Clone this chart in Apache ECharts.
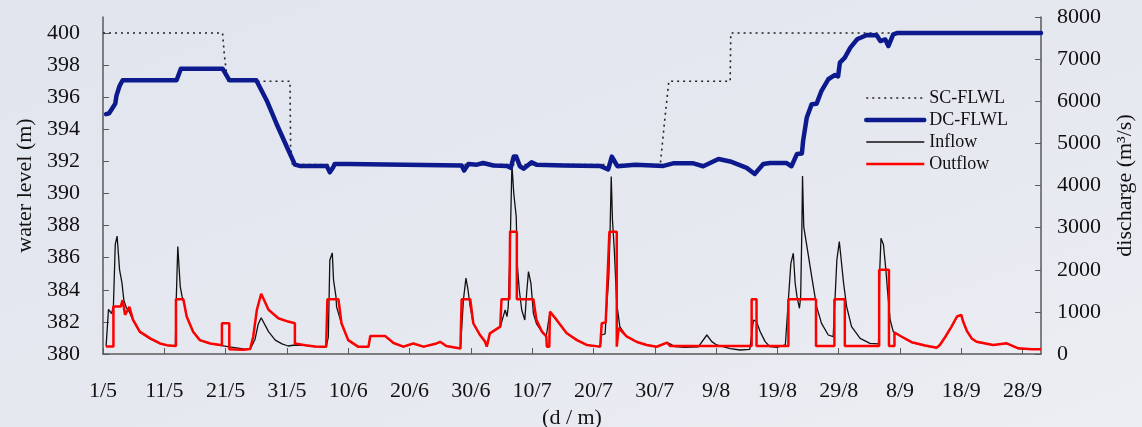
<!DOCTYPE html>
<html>
<head>
<meta charset="utf-8">
<script src="https://cdn.jsdelivr.net/npm/echarts@6.0.0/dist/echarts.min.js"></script>
<style>
  html, body { margin: 0; padding: 0; }
  body { background: linear-gradient(160deg, #e1e5ee 0%, #e5e8ef 55%, #eceef3 100%); }
  #chart { width: 1142px; height: 427px; }
</style>
</head>
<body>
<div id="chart"></div>
<script>
// x = days since 1 May
const tickLabels = ['1/5','11/5','21/5','31/5','10/6','20/6','30/6','10/7','20/7','30/7','9/8','19/8','29/8','8/9','18/9','28/9'];

// water levels (m)
const scFlwl = [[0,400],[19.5,400],[19.8,398.6],[20.3,397.0],[30.5,397.0],[30.6,393.0],[30.9,391.8],[90.9,391.8],[91.6,394.5],[92.3,397.0],[102.3,397.0],[102.4,400],[153,400]];

const dcFlwl = [[0.5,394.95],[1.0,395.0],[1.5,395.3],[2.0,395.6],[2.2,396.1],[2.7,396.7],[3.2,397.06],[12.0,397.06],[12.7,397.78],[19.5,397.78],[20.6,397.06],[25.0,397.06],[26.7,395.8],[28.3,394.35],[30.0,392.9],[31.3,391.8],[32.1,391.72],[36.5,391.72],[37.0,391.32],[37.5,391.6],[37.8,391.84],[40.0,391.84],[40.3,391.75],[58.5,391.75],[58.9,391.43],[59.6,391.84],[61.0,391.8],[62.0,391.9],[63.7,391.75],[65.9,391.72],[66.5,391.6],[67.0,392.3],[67.4,392.3],[68.0,391.7],[68.6,391.55],[69.9,391.94],[70.7,391.8],[75.1,391.75],[81.1,391.72],[82.4,391.5],[83.0,392.3],[83.3,392.3],[83.9,391.7],[85.4,391.75],[86.8,391.8],[91.4,391.72],[93.0,391.88],[96.3,391.88],[97.9,391.7],[100.4,392.15],[102.3,392.0],[105.0,391.6],[106.3,391.22],[107.7,391.84],[108.8,391.9],[111.5,391.9],[112.3,391.7],[113.2,392.47],[114.0,392.5],[114.2,393.29],[114.8,394.74],[115.6,395.57],[116.4,395.6],[117.2,396.4],[118.3,397.12],[119.4,397.39],[119.9,397.3],[120.2,398.16],[121.0,398.47],[121.9,399.09],[123.0,399.61],[124.6,399.88],[126.2,399.86],[126.8,399.5],[127.6,399.6],[128.1,399.19],[128.9,399.92],[129.5,400],[153,400]];

// discharge (m3/s)
const inflow = [[0.5,180],[0.9,1060],[1.15,1090],[1.4,960],[1.7,1150],[2.0,2600],[2.3,2800],[2.7,2000],[3.1,1680],[3.4,1280],[3.8,1100],[4.3,1000],[4.9,800],[6.0,520],[7.7,360],[9.3,245],[10.4,205],[11.8,185],[11.95,1300],[12.2,2550],[12.6,1600],[12.9,1360],[13.2,1250],[13.65,880],[14.7,525],[15.8,325],[17.5,245],[19.4,200],[20.6,170],[22.9,120],[24.0,110],[24.8,350],[25.3,700],[25.8,860],[27.0,530],[28.1,330],[29.2,240],[30.2,190],[31.3,214],[33.0,205],[34.6,175],[36.4,165],[36.75,400],[37.0,2230],[37.4,2400],[37.6,1760],[38.0,1360],[38.1,1120],[38.9,720],[40.0,325],[41.6,170],[43.3,170],[43.6,420],[46.0,420],[47.4,255],[49.0,170],[50.6,245],[52.3,170],[54.4,245],[55.0,285],[56.0,185],[58.3,125],[58.8,1300],[59.2,1800],[59.5,1560],[59.9,1120],[60.4,720],[61.5,445],[62.3,295],[62.6,170],[63.1,485],[64.8,640],[65.3,900],[65.6,1045],[65.9,886],[66.1,1124],[66.4,2470],[66.7,4500],[67.0,3816],[67.4,3260],[67.6,2073],[67.9,1520],[68.3,1045],[68.8,807],[69.1,1441],[69.4,1955],[69.8,1679],[70.2,966],[70.7,720],[71.6,525],[72.3,415],[72.8,900],[73.0,990],[74.0,800],[75.6,495],[77.3,330],[78.9,210],[81.1,170],[81.3,451],[81.9,480],[82.2,1203],[82.5,1837],[82.7,2850],[82.9,4211],[83.1,3183],[83.4,2470],[83.6,1837],[83.8,1203],[84.3,650],[85.4,415],[87.1,280],[88.7,210],[90.3,170],[92.0,265],[92.2,293],[92.5,240],[93.3,173],[94.9,160],[97.1,170],[98.5,451],[99.3,293],[100.1,214],[102.3,130],[103.9,95],[105.5,111],[106.1,807],[106.6,768],[107.2,530],[108.0,293],[108.8,173],[109.9,160],[111.3,214],[111.8,1300],[112.2,2153],[112.6,2391],[112.9,1679],[113.2,1361],[113.6,1085],[113.8,1361],[114.0,3024],[114.1,4228],[114.3,3024],[115.0,2391],[115.6,1837],[116.4,1124],[117.2,728],[118.3,451],[119.1,411],[119.4,1300],[119.7,2232],[120.1,2667],[120.3,2391],[120.8,1679],[121.3,1124],[122.1,649],[123.5,372],[125.1,253],[126.5,240],[126.7,1995],[126.9,2747],[127.3,2600],[127.7,1995],[128.0,1441],[128.4,807],[128.9,530],[130.3,405],[131.9,275],[134.1,195],[136.0,148],[136.5,210],[137.4,405],[138.4,645],[139.3,885],[140.0,925],[140.3,765],[140.9,545],[141.7,365],[142.5,288],[145.2,210],[147.4,250],[149.3,130],[151.5,108],[153,108]];

const outflow = [[0.5,180],[1.7,180],[1.7,1130],[2.9,1130],[3.2,1280],[3.6,930],[4.3,1120],[4.9,810],[6.0,530],[7.7,370],[9.3,250],[10.4,210],[11.9,190],[11.9,1300],[13.1,1300],[13.65,890],[14.7,530],[15.8,330],[17.5,250],[19.4,210],[19.4,730],[20.6,730],[20.6,110],[22.9,100],[24.0,120],[24.5,410],[25.1,1050],[25.8,1430],[27.0,1050],[28.6,850],[30.2,770],[31.3,730],[31.3,250],[33.0,210],[34.6,180],[36.4,170],[36.6,1300],[38.4,1300],[38.9,730],[40.0,330],[41.6,175],[43.3,175],[43.6,430],[46.0,430],[47.4,260],[49.0,175],[50.6,250],[52.3,175],[54.4,250],[55.0,290],[56.0,190],[58.3,130],[58.5,1300],[59.9,1300],[60.4,730],[61.5,450],[62.3,300],[62.6,175],[63.1,490],[64.8,650],[65.0,1300],[66.3,1300],[66.4,2905],[67.5,2905],[67.5,1300],[70.2,1300],[70.7,810],[71.6,530],[72.3,420],[72.4,175],[72.8,175],[72.9,1005],[74.0,810],[75.6,500],[77.3,330],[78.9,214],[81.1,175],[81.3,190],[81.35,730],[82.0,750],[82.6,2905],[83.8,2905],[83.8,175],[84.0,175],[84.1,620],[85.4,420],[87.1,285],[88.7,214],[90.3,173],[92.0,270],[92.5,190],[105.8,190],[105.8,1300],[106.6,1300],[106.6,190],[111.8,190],[111.8,1300],[116.3,1300],[116.3,190],[119.3,190],[119.3,1300],[121.0,1300],[121.0,190],[126.6,190],[126.6,2000],[128.2,2000],[128.2,190],[129.1,190],[129.1,510],[130.3,410],[131.9,280],[134.1,200],[136.0,150],[136.5,214],[137.4,410],[138.4,650],[139.3,890],[140.0,930],[140.3,770],[140.9,550],[141.7,370],[142.5,290],[145.2,214],[147.4,253],[149.3,135],[151.5,111],[153,111]];

const font = 'Liberation Serif, Times New Roman, serif';
const axisColor = '#5a5a5a';
const blue = '#0c1a8e';

var chartDom = document.getElementById('chart');
var myChart = echarts.init(chartDom);
var option = {
  animation: false,
  backgroundColor: 'transparent',
  grid: { left: 103, right: 101, top: 17, bottom: 73, containLabel: false, outerBoundsMode: 'none' },
  legend: {
    orient: 'vertical',
    left: 859,
    top: 84,
    itemWidth: 58,
    itemHeight: 14,
    itemGap: 4,
    itemStyle: { opacity: 0 },
    data: [
      { name: 'SC-FLWL', lineStyle: { color: '#222', width: 1.6, type: [2, 4] } },
      { name: 'DC-FLWL', lineStyle: { color: blue, width: 4.5 } },
      { name: 'Inflow', lineStyle: { color: '#111', width: 1.5 } },
      { name: 'Outflow', lineStyle: { color: '#ff0000', width: 2.5 } }
    ],
    textStyle: { fontFamily: font, fontSize: 18, lineHeight: 16, color: '#111' }
  },
  xAxis: {
    type: 'value',
    min: 0,
    max: 153,
    interval: 10,
    name: '(d / m)',
    nameLocation: 'middle',
    nameGap: 52,
    nameTextStyle: { fontFamily: font, fontSize: 22, color: '#111' },
    splitLine: { show: false },
    axisLine: { lineStyle: { color: axisColor, width: 1.5 } },
    axisTick: { inside: true, length: 6, lineStyle: { color: axisColor } },
    axisLabel: {
      margin: 26,
      fontFamily: font, fontSize: 22, color: '#111',
      showMaxLabel: false,
      formatter: function (v) { return tickLabels[Math.round(v / 10)] || ''; }
    }
  },
  yAxis: [
    {
      type: 'value',
      min: 380,
      max: 401,
      interval: 2,
      name: 'water level (m)',
      nameLocation: 'middle',
      nameGap: 66,
      nameTextStyle: { fontFamily: font, fontSize: 22, color: '#111' },
      splitLine: { show: false },
      axisLine: { show: true, lineStyle: { color: axisColor, width: 1.5 } },
      axisTick: { show: true, inside: true, length: 6, lineStyle: { color: axisColor } },
      axisLabel: { margin: 23, fontFamily: font, fontSize: 22, color: '#111', showMaxLabel: false }
    },
    {
      type: 'value',
      min: 0,
      max: 8000,
      interval: 1000,
      position: 'right',
      name: 'discharge (m³/s)',
      nameLocation: 'middle',
      nameGap: 73,
      nameTextStyle: { fontFamily: font, fontSize: 22, color: '#111' },
      splitLine: { show: false },
      axisLine: { show: true, lineStyle: { color: axisColor, width: 1.5 } },
      axisTick: { show: true, inside: true, length: 6, lineStyle: { color: axisColor } },
      axisLabel: {
        margin: 16, fontFamily: font, fontSize: 22, color: '#111',
        formatter: function (v) { return String(v); }
      }
    }
  ],
  series: [
    {
      name: 'Inflow', type: 'line', yAxisIndex: 1, data: inflow,
      symbol: 'none', z: 2,
      lineStyle: { color: '#111', width: 1.3 }, itemStyle: { color: '#111' }
    },
    {
      name: 'Outflow', type: 'line', yAxisIndex: 1, data: outflow,
      symbol: 'none', z: 3,
      lineStyle: { color: '#ff0000', width: 2.5 }, itemStyle: { color: '#ff0000' }
    },
    {
      name: 'SC-FLWL', type: 'line', yAxisIndex: 0, data: scFlwl,
      symbol: 'none', z: 4,
      lineStyle: { color: '#222', width: 1.6, type: [2, 4] }, itemStyle: { color: '#222' }
    },
    {
      name: 'DC-FLWL', type: 'line', yAxisIndex: 0, data: dcFlwl,
      symbol: 'none', z: 5,
      lineStyle: { color: blue, width: 4.5, join: 'round', cap: 'round' }, itemStyle: { color: blue }
    }
  ]
};
option && myChart.setOption(option);
</script>
</body>
</html>
